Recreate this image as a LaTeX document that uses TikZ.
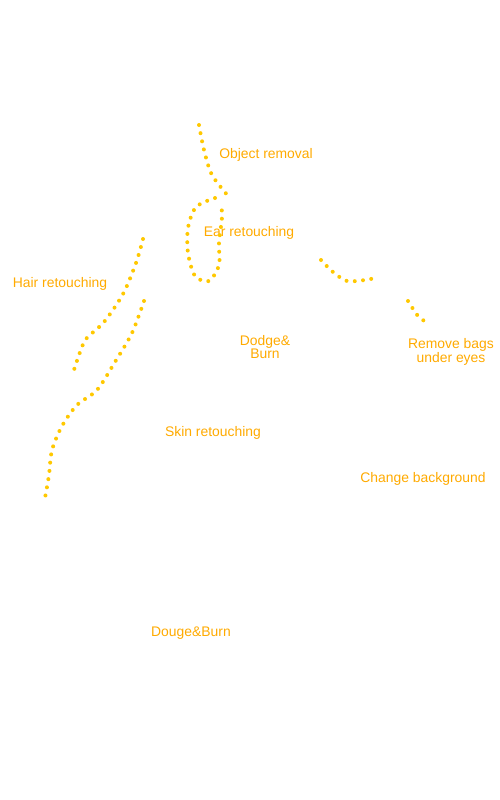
\documentclass[tikz,border=0pt]{standalone}
\usepackage{fontspec}
\setmainfont{Liberation Sans}
\usetikzlibrary{positioning}
\definecolor{retlabel}{RGB}{255,170,0}
\definecolor{retdots}{RGB}{255,200,0}

\begin{document}
\begin{tikzpicture}[
      x=1pt, y=-1pt,
      lbl/.style={
        text=retlabel,
        inner sep=0pt,
        align=center,
        font=\fontsize{13.9}{12.5}\selectfont
      },
      dotline/.style={
        draw=retdots,
        line width=4pt,
        line cap=round,
        dash pattern=on 0pt off 8.3pt
      }
    ]
      \useasboundingbox (0,0) rectangle (500,800);
      % labels
      \node[lbl,anchor=base] (objrem) at (266,158) {Object removal};
      \node[lbl,anchor=base] (ear) at (249,236) {Ear retouching};
      \node[lbl,anchor=base] (hair) at (60,287) {Hair retouching};
      \node[lbl] (dodge) at (265,347) {Dodge\&\\Burn};
      \node[lbl] (bags) at (451,352) {Remove bags\\under eyes};
      \node[lbl,anchor=base] (skin) at (213,436) {Skin retouching};
      \node[lbl,anchor=base] (backgr) at (423,482) {Change background};
      \node[lbl,anchor=base] (douge) at (191,636) {Douge\&Burn};
      % dotted strokes
      \draw[dotline] plot[smooth] coordinates {(199,125) (204,150) (212,175) (229,197)};
      \draw[dotline] plot[smooth] coordinates {(215,198) (196,207) (188,228) (188,253) (195,276) (209,281) (219,265) (219,243) (222,217) (221,203)};
      \draw[dotline] plot[smooth] coordinates {(143,239) (136,263) (123,294) (104,322) (86,339) (79,355) (73,373)};
      \draw[dotline] plot[smooth] coordinates {(144,301) (132,333) (115,362) (97,390) (77,405) (62,426) (52,450) (49,475) (45,498)};
      \draw[dotline] plot[smooth] coordinates {(321,260) (333,272) (347,281) (365,280) (375,278)};
      \draw[dotline] plot[smooth] coordinates {(408,301) (418,316) (426,322)};
\end{tikzpicture}
\end{document}
